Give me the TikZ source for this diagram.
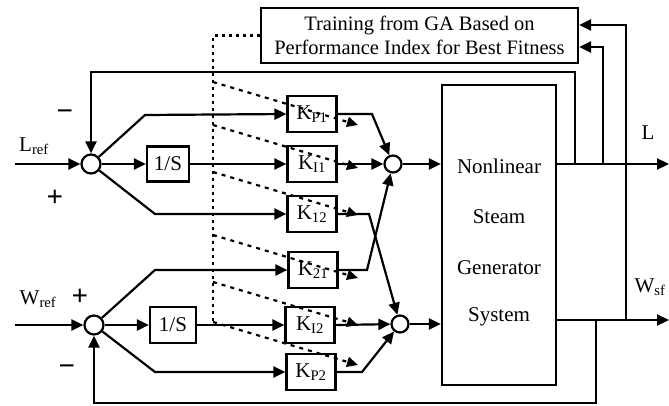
\documentclass[tikz,border=0pt]{standalone}
\usepackage{fontspec}
\setmainfont{Liberation Serif}
\usetikzlibrary{arrows.meta,calc}
\begin{document}
\begin{tikzpicture}[x=1pt,y=-1pt,
  lw/.style={line width=2.2pt},
  arr/.style={lw,-{Triangle[length=12pt,width=11pt]}},
  blk/.style={draw,lw,minimum width=49pt,minimum height=36pt,inner sep=0pt,font=\fontsize{21}{24}\selectfont},
  sumj/.style={draw,lw,circle,minimum size=19pt,inner sep=0pt},
  sumr/.style={draw,lw,circle,minimum size=17pt,inner sep=0pt},
  lbl/.style={font=\fontsize{21}{24}\selectfont,inner sep=0pt},
  sgn/.style={font=\fontsize{29}{32}\selectfont\bfseries,inner sep=0pt},
  dotl/.style={line width=2.4pt,dash pattern=on 3pt off 4pt},
  dashl/.style={line width=2.2pt,dash pattern=on 4pt off 5pt,-{Triangle[length=11pt,width=10pt]}}
]
\useasboundingbox (0,0) rectangle (669,405);

% GA box
\node[draw,lw,minimum width=317pt,minimum height=55pt,align=center,inner sep=0pt,
      font=\fontsize{20.5}{24}\selectfont] (ga) at (419.5,35.5)
      {Training from GA Based on\\Performance Index for Best Fitness};

% plant
\node[draw,lw,minimum width=114pt,minimum height=300pt] (nl) at (499,235) {};
\node[lbl] (t1) at (499,166) {Nonlinear};
\node[lbl] (t2) at (499,217) {Steam};
\node[lbl] (t3) at (499,268) {Generator};
\node[lbl] (t4) at (499,317) {System};

% summing junctions
\node[sumj] (s1) at (91,164) {};
\node[sumj] (s2) at (94,325) {};
\node[sumr] (s3) at (393,164) {};
\node[sumr] (s4) at (400,324) {};

% integrators
\node[draw,lw,minimum width=42pt,minimum height=35pt,inner sep=0pt,font=\fontsize{21}{24}\selectfont] (i1) at (168,164) {1/S};
\node[draw,lw,minimum width=46pt,minimum height=36pt,inner sep=0pt,font=\fontsize{21}{24}\selectfont] (i2) at (173,325) {1/S};

% gains
\node[blk] (kp1) at (312,114) {K\textsubscript{P1}};
\node[blk] (ki1) at (312,164) {K\textsubscript{I1}};
\node[blk] (k12) at (312,214) {K\textsubscript{12}};
\node[blk] (k21) at (313,270) {K\textsubscript{21}};
\node[blk] (ki2) at (310,325) {K\textsubscript{I2}};
\node[blk] (kp2) at (311,372) {K\textsubscript{P2}};

% free ends and junctions
\coordinate (Lin) at (15,164);
\coordinate (Win) at (15,325);
\coordinate (Lout) at (556,164);
\coordinate (Wout) at (556,320);
\coordinate (Lend) at (669,164);
\coordinate (Wend) at (669,320);
\coordinate (jL1) at (575,164);
\coordinate (jL2) at (603,164);
\coordinate (jW1) at (626,320);
\coordinate (jW2) at (596,320);

% inputs
\draw[arr] (Lin) -- (s1);
\draw[arr] (Win) -- (s2);

% upper loop
\draw[arr] (s1) -- (i1);
\draw[arr] (i1) -- (ki1);
\draw[arr] (s1) -- (145,115) -- (kp1.west);
\draw[arr] (s1) -- (155,214) -- (k12.west);

% lower loop
\draw[arr] (s2) -- (i2);
\draw[arr] (i2) -- (ki2);
\draw[arr] (s2) -- (155,270) -- (k21.west);
\draw[arr] (s2) -- (155,372) -- (kp2.west);

% gain outputs
\draw[arr] (kp1.east) -- (372,114) -- (s3);
\draw[arr] (ki1.east) -- (s3);
\draw[arr] (k21.east) -- (367,270) -- (s3);
\draw[arr] (k12.east) -- (369,214) -- (s4);
\draw[arr] (ki2.east) -- (s4);
\draw[arr] (kp2.east) -- (362,372) -- (s4);

% to plant
\draw[arr] (s3) -- (s3 -| nl.west);
\draw[arr] (s4) -- (s4 -| nl.west);

% outputs
\draw[arr] (Lout) -- (Lend);
\draw[arr] (Wout) -- (Wend);
\node[lbl] (lL) at (648,133) {L};
\node[lbl] (lW) at (650,287) {W\textsubscript{sf}};

% feedbacks
\draw[arr] (jL1) -- (575,72) -| (s1);
\draw[arr] (jW2) -- (596,403) -| (s2);
\draw[arr] (jL2) |- ([yshift=-11.5pt]ga.east);
\draw[arr] (jW1) |- ([yshift=10.5pt]ga.east);

% tuning signals
\draw[dotl] (ga.west) -- (213,35.5) -- (213,322);
\foreach \y in {82,125,172,235,282,322}
  \draw[dashl] (213,\y) -- (358,\y+43);

% labels
\node[lbl] (lref) at (34,146) {L\textsubscript{ref}};
\node[lbl] (wref) at (38,299) {W\textsubscript{ref}};
\node[sgn] (m1) at (65,115) {−};
\node[sgn] (p1) at (55,198) {+};
\node[sgn] (p2) at (80,297) {+};
\node[sgn] (m2) at (67,370) {−};
\end{tikzpicture}
\end{document}
